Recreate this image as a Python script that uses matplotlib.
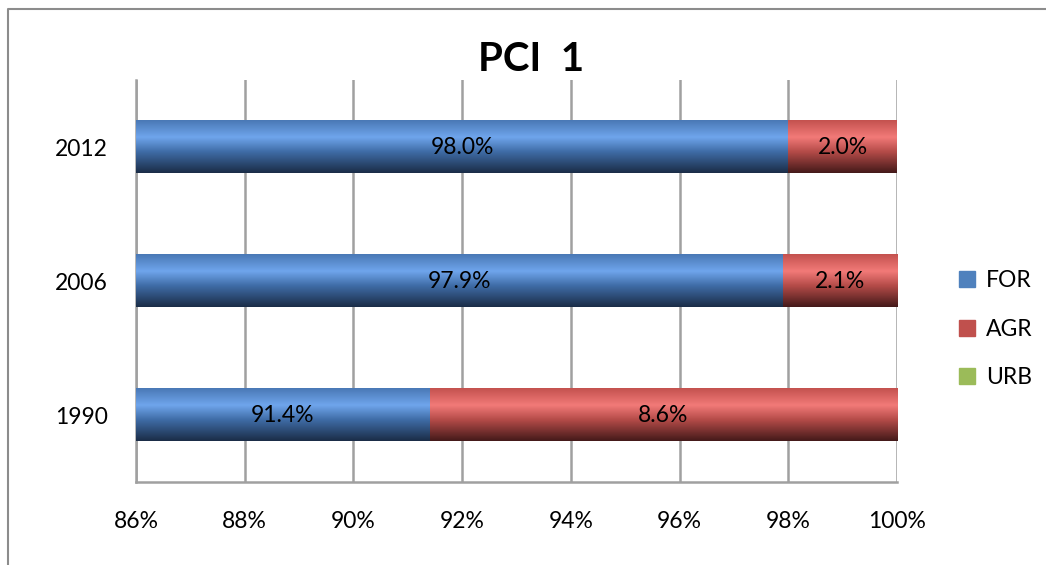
import matplotlib.pyplot as plt
import matplotlib.patches as mpatches
import matplotlib.lines as mlines
import numpy as np

plt.rcParams['font.family'] = ['Lato', 'DejaVu Sans']

years = ['1990', '2006', '2012']
series = ['FOR', 'AGR', 'URB']
for_vals = [91.4, 97.9, 98.0]
agr_vals = [8.6, 2.1, 2.0]
urb_vals = [0.0, 0.0, 0.0]

# gradient stops (top -> bottom) per series, excel 2007 style
grad = {
    'FOR': [(0.0, '#4a79b6'), (0.32, '#6fa5ec'), (0.6, '#3f6ca6'), (1.0, '#1b2d48')],
    'AGR': [(0.0, '#c4524f'), (0.32, '#f27a78'), (0.6, '#b44b48'), (1.0, '#451a1a')],
    'URB': [(0.0, '#9bbb59'), (0.32, '#c3e07e'), (0.6, '#8aa84e'), (1.0, '#3c4a20')],
}
flat = {'FOR': '#4f81bd', 'AGR': '#c0504d', 'URB': '#9bbb59'}


def make_gradient(stops, n=64):
    pos = [s[0] for s in stops]
    rgb = np.array([[int(c[i:i + 2], 16) / 255 for i in (1, 3, 5)] for _, c in stops])
    t = np.linspace(0, 1, n)
    img = np.zeros((n, 1, 3))
    for k in range(3):
        img[:, 0, k] = np.interp(t, pos, rgb[:, k])
    return img


fig = plt.figure(figsize=(10.46, 5.65), dpi=100)
ax = fig.add_axes([136 / 1046, 1 - 482 / 565, (897 - 136) / 1046, (482 - 80) / 565])

# outer chart border (left and top edges visible)
bx, by = 7.5 / 1046, 1 - 8.5 / 565
fig.add_artist(mlines.Line2D([bx, bx, 1.0], [0, by, by], transform=fig.transFigure,
                             color='#8c8c8c', linewidth=1.5, zorder=10))

xmin, xmax = 86, 100
y = np.arange(len(years))
h = 0.39
left = np.zeros(len(years))
for name, vals in zip(series, [for_vals, agr_vals, urb_vals]):
    bars = ax.barh(y, vals, left=left, height=h, color=flat[name], label=name,
                   linewidth=0, zorder=3)
    img = make_gradient(grad[name])
    for b, v, l in zip(bars, vals, left):
        if v <= 0:
            continue
        x0 = max(l, xmin)
        x1 = l + v
        if x1 <= x0:
            continue
        y0 = b.get_y()
        ax.imshow(img, extent=(x0, x1, y0, y0 + b.get_height()),
                  origin='upper', aspect='auto', zorder=3.5, interpolation='bilinear')
        ax.text((x0 + x1) / 2, y0 + b.get_height() / 2, f'{v:.1f}%', ha='center', va='center',
                fontsize=16.5, color='black', zorder=5)
    left = left + np.array(vals)

ax.set_xlim(xmin, xmax)
ax.set_ylim(-0.5, 2.5)
ax.set_xticks(range(86, 101, 2))
ax.set_xticklabels([f'{t}%' for t in range(86, 101, 2)])
ax.set_yticks(y)
ax.set_yticklabels(years)
ax.tick_params(axis='both', length=0, labelsize=16.5)
ax.tick_params(axis='x', pad=21)
ax.tick_params(axis='y', pad=20)
ax.grid(axis='x', color='#a0a0a0', linewidth=1.8, zorder=0)
ax.set_axisbelow(True)
for s in ['top', 'right']:
    ax.spines[s].set_visible(False)
for s in ['left', 'bottom']:
    ax.spines[s].set_color('#a0a0a0')
    ax.spines[s].set_linewidth(1.8)

fig.text(531 / 1046, 1 - 60 / 565, 'PCI  1', fontsize=29, fontweight='bold',
         ha='center', va='center')

handles = [mpatches.Patch(color=flat[n], label=n) for n in series]
ax.legend(handles=handles, loc='center left', bbox_to_anchor=(1.07, 0.38), frameon=False,
          fontsize=16.5, handlelength=0.7, handleheight=0.7, handletextpad=0.45,
          labelspacing=1.2, borderaxespad=0)

fig.savefig('out.png', dpi=100)
